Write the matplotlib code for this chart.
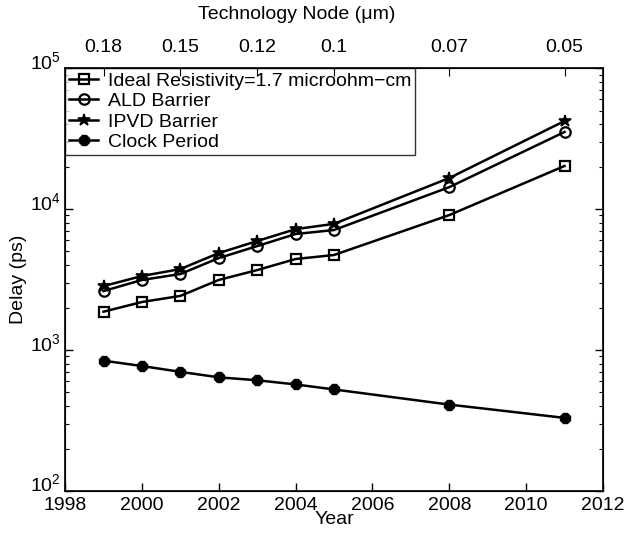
import matplotlib.pyplot as plt
import matplotlib.transforms as mtransforms
from matplotlib.ticker import LogLocator, NullFormatter

years = [1999, 2000, 2001, 2002, 2003, 2004, 2005, 2008, 2011]
ideal = [1870, 2190, 2420, 3140, 3690, 4420, 4720, 9060, 20200]
ald = [2620, 3140, 3460, 4490, 5460, 6650, 7100, 14300, 35200]
ipvd = [2840, 3350, 3750, 4870, 5930, 7200, 7850, 16600, 42100]
clock = [840, 770, 700, 640, 610, 570, 525, 410, 330]

node_years = [1999, 2001, 2003, 2005, 2008, 2011]
node_labels = ["0.18", "0.15", "0.12", "0.1", "0.07", "0.05"]

plt.rcParams["font.family"] = ["Liberation Sans", "DejaVu Sans"]
plt.rcParams["font.size"] = 14
plt.rcParams["mathtext.fontset"] = "custom"
plt.rcParams["mathtext.rm"] = "Liberation Sans"

fig = plt.figure(figsize=(6.32, 5.36), dpi=100)
ax = fig.add_axes([0.103, 0.084, 0.851, 0.789])

lw = 1.8
ax.plot(years, ideal, "-s", color="black", lw=lw, ms=7, mfc="none", mew=1.6,
        label="Ideal Resistivity=1.7 microohm\u2212cm")
ax.plot(years, ald, "-o", color="black", lw=lw, ms=7.5, mfc="none", mew=1.6,
        label="ALD Barrier")
ax.plot(years, ipvd, "-*", color="black", lw=lw, ms=9, mew=1.2,
        label="IPVD Barrier")
ax.plot(years, clock, "-8", color="black", lw=lw, ms=7.5,
        label="Clock Period")

ax.set_yscale("log")
ax.set_ylim(1e2, 1e5)
ax.set_xlim(1998, 2012)
ax.set_xticks(range(1998, 2013, 2))
ax.yaxis.set_minor_locator(LogLocator(base=10, subs=range(2, 10)))
ax.yaxis.set_minor_formatter(NullFormatter())
ax.tick_params(which="both", direction="in", top=True, right=True)
ax.tick_params(which="major", length=6, width=1)
ax.tick_params(which="minor", length=3, width=0.8)
ax.tick_params(axis="x", pad=4)
ax.tick_params(axis="y", pad=3)
for s in ax.spines.values():
    s.set_linewidth(1.2)

# y labels sit a little above their ticks, as in the original
shift = mtransforms.ScaledTranslation(0, 6 / 72, fig.dpi_scale_trans)
for lab in ax.get_yticklabels():
    lab.set_transform(lab.get_transform() + shift)

ax.set_xlabel("Year", labelpad=-2)
ax.set_ylabel("Delay (ps)", labelpad=2)

top = ax.twiny()
top.set_xlim(ax.get_xlim())
top.set_xticks(node_years)
top.set_xticklabels(node_labels)
top.tick_params(direction="in", length=6, pad=9)
top.set_xlabel("Technology Node (\u03bcm)")
top.xaxis.set_label_coords(0.43, 1.115)

leg = ax.legend(loc="upper left", borderaxespad=0, frameon=True, fancybox=False,
                edgecolor="black", handlelength=1.5, handletextpad=0.5,
                labelspacing=0.15, borderpad=0.2, fontsize=14)
leg.get_frame().set_linewidth(1.0)

fig.savefig("out.png", dpi=100)
